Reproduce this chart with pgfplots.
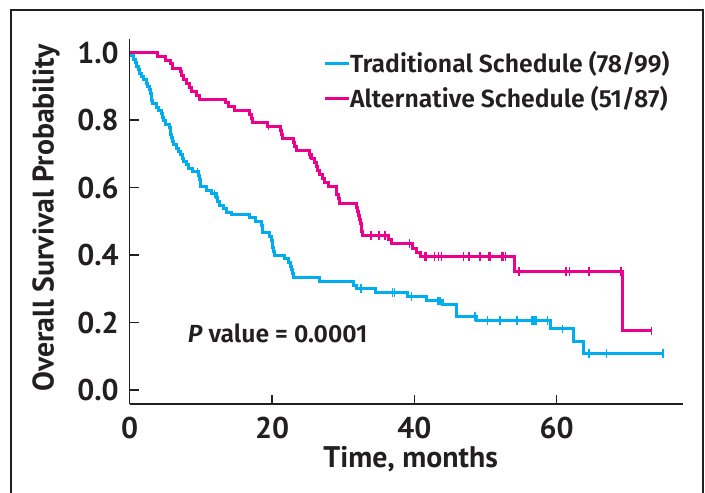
\documentclass[border=0pt]{standalone}
\usepackage{fontspec}
\setmainfont{PT Sans}
\newfontfamily\semib{Fira Sans SemiBold}[ItalicFont={Fira Sans SemiBold Italic}]
\usepackage{pgfplots}
\pgfplotsset{compat=1.18}

\definecolor{ink}{HTML}{231F20}
\definecolor{tradblue}{HTML}{00AEEF}
\definecolor{altpink}{HTML}{EC008C}

\begin{document}
\begin{tikzpicture}
\begin{axis}[
    x=3.5585pt, y=168.75pt,
    xmin=0, xmax=77.7,
    ymin=-0.0415, ymax=1.04,
    axis lines=left,
    axis line style={-, line width=0.75pt, color=ink},
    tick align=inside,
    major tick length=4.5pt,
    tick style={line width=0.75pt, color=ink},
    xtick={0,20,40,60},
    ytick={0,0.2,0.4,0.6,0.8,1.0},
    yticklabel style={/pgf/number format/fixed, /pgf/number format/fixed zerofill,
        /pgf/number format/precision=1},
    /pgf/number format/assume math mode=true,
    tick label style={font=\bfseries\fontsize{15}{15}\selectfont, text=ink, inner sep=0pt},
    xticklabel style={anchor=north, yshift=-6.3pt},
    yticklabel style={anchor=east, xshift=-5.3pt},
    xlabel={Time, months},
    ylabel={Overall Survival Probability},
    label style={font=\bfseries\fontsize{14.9}{15}\selectfont, text=ink},
    xlabel style={at={(axis description cs:0.508,-0.150)}, anchor=center},
    ylabel style={at={(axis description cs:-0.1513,0.51)}, anchor=center},
    clip=false,
    legend image code/.code={\draw[#1, line width=1.5pt] (0pt,0pt) -- (11.7pt,0pt);},
    legend style={at={(axis cs:27.2,0.916)}, anchor=west, draw=none, fill=none,
        inner sep=0pt, row sep=5.6pt,
        font=\semib\fontsize{12.4}{14}\selectfont, text=ink,
        nodes={inner sep=0pt}},
    legend cell align=left,
    /tikz/every even column/.append style={column sep=3.8pt},
]

\addplot[const plot, color=tradblue, line width=1.5pt] coordinates {
    (0,1.0) (0.3,0.990) (0.5,0.980) (0.8,0.970) (1.0,0.960) (1.2,0.949)
    (1.4,0.939) (1.6,0.929) (1.9,0.919) (2.3,0.909) (2.5,0.899) (2.8,0.889)
    (2.9,0.879) (3.0,0.869) (3.1,0.859) (3.2,0.848) (3.8,0.838) (4.0,0.828)
    (4.4,0.818) (4.6,0.808) (4.8,0.798) (5.0,0.788) (5.6,0.778) (5.7,0.768)
    (5.8,0.758) (5.9,0.747) (6.0,0.737) (6.2,0.727) (6.6,0.717) (6.8,0.707)
    (7.2,0.697) (7.4,0.687) (7.6,0.677) (8.0,0.667) (8.3,0.657) (8.8,0.646)
    (9.7,0.636) (9.8,0.625) (9.9,0.614) (10.0,0.603) (10.8,0.592) (11.5,0.581)
    (12.2,0.570) (12.4,0.559) (12.6,0.548) (13.2,0.537) (13.6,0.526) (14.3,0.521)
    (16.9,0.510) (17.7,0.499) (18.5,0.488) (18.6,0.477) (18.7,0.466) (19.6,0.455)
    (19.9,0.444) (20.0,0.433) (20.1,0.422) (20.2,0.411) (20.4,0.400) (21.7,0.389)
    (22.3,0.378) (22.6,0.367) (22.8,0.356) (22.9,0.345) (23.0,0.333) (26.7,0.322)
    (31.4,0.311) (31.9,0.300) (34.5,0.288) (39.1,0.277) (41.7,0.264) (43.9,0.252)
    (45.9,0.219) (48.7,0.207) (59.1,0.181) (62.3,0.144) (63.8,0.108) (75.0,0.108)
};
\addlegendentry{Traditional Schedule (78/99)}

\addplot[const plot, color=altpink, line width=1.5pt] coordinates {
    (0,1.0) (3.9,0.989) (5.0,0.977) (5.7,0.966) (6.0,0.954) (7.1,0.943)
    (7.3,0.931) (7.6,0.920) (8.0,0.908) (8.4,0.897) (8.7,0.885) (9.4,0.874)
    (9.8,0.862) (13.4,0.851) (13.9,0.839) (14.7,0.828) (16.8,0.816) (17.1,0.805)
    (17.3,0.793) (19.3,0.782) (21.2,0.770) (21.3,0.758) (21.5,0.746) (23.0,0.734)
    (23.2,0.722) (23.5,0.710) (25.2,0.698) (25.5,0.686) (25.9,0.674) (26.2,0.662)
    (26.4,0.650) (26.7,0.638) (27.1,0.626) (27.4,0.614) (27.9,0.602) (29.0,0.590)
    (29.1,0.578) (29.3,0.566) (29.5,0.553) (31.8,0.541) (32.0,0.529) (32.2,0.517)
    (32.3,0.505) (32.4,0.493) (32.5,0.481) (32.6,0.470) (32.7,0.459) (36.3,0.446)
    (36.8,0.433) (39.8,0.420) (40.3,0.408) (40.9,0.395) (54.0,0.351) (69.3,0.175)
    (73.3,0.175)
};
\addlegendentry{Alternative Schedule (51/87)}

% censored observations
\addplot[only marks, mark=|, mark size=2.2pt, mark options={line width=0.75pt},
    color=tradblue, forget plot] coordinates {
    (9.5,0.646) (11.9,0.581) (32.5,0.300) (36.9,0.288) (37.2,0.288) (39.6,0.277)
    (43.3,0.264) (43.6,0.264) (48.5,0.219) (50.3,0.207) (52.0,0.207) (54.4,0.207)
    (56.5,0.207) (56.8,0.207) (57.1,0.207) (58.7,0.207) (60.8,0.181) (64.5,0.108)
    (67.0,0.108) (74.9,0.108)
};
\addplot[only marks, mark=|, mark size=2.2pt, mark options={line width=0.75pt},
    color=altpink, forget plot] coordinates {
    (19.5,0.782) (25.3,0.698) (33.9,0.459) (35.0,0.459) (35.9,0.459) (39.3,0.433)
    (41.5,0.395) (41.7,0.395) (42.8,0.395) (43.4,0.395) (43.8,0.395) (46.9,0.395)
    (47.7,0.395) (49.2,0.395) (50.4,0.395) (50.6,0.395) (52.3,0.395) (52.5,0.395)
    (52.8,0.395) (54.7,0.351) (61.3,0.351) (61.8,0.351) (64.5,0.351) (69.0,0.351)
    (73.3,0.175)
};

\node[font=\semib\fontsize{12.4}{14}\selectfont, text=ink] at (axis cs:20.8,0.169)
    {{\itshape P} value = 0.0001};

\coordinate (bbll) at (axis cs:-18.22,-0.3022);
\coordinate (bbur) at (axis cs:80.83,1.1556);
\draw[ink, line width=0.6pt] (axis cs:-16.68,-0.6) -- (axis cs:-16.68,1.126)
    -- (axis cs:80.55,1.126) -- (axis cs:80.55,-0.6);
\end{axis}
\pgfresetboundingbox
\path[use as bounding box] (bbll) rectangle (bbur);
\end{tikzpicture}
\end{document}
